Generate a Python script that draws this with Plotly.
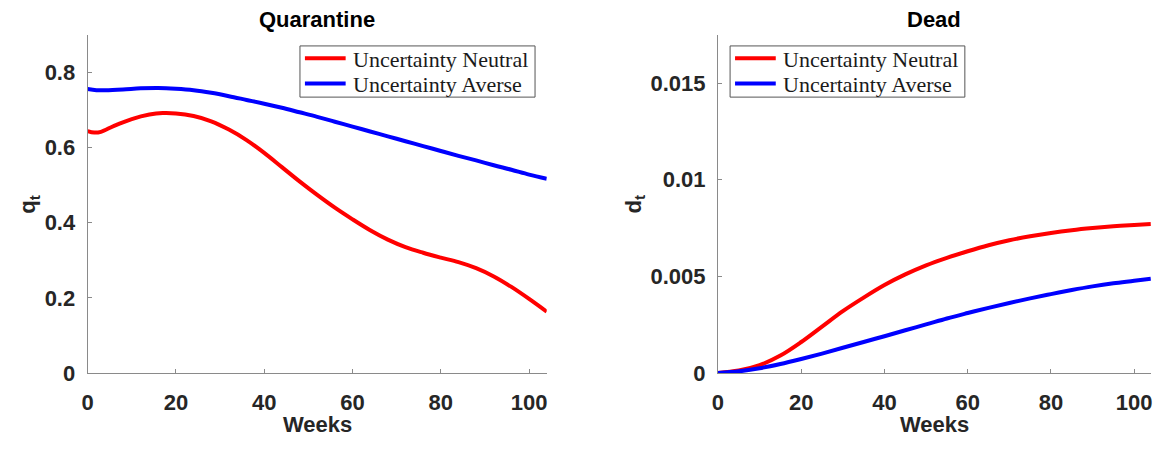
import plotly.graph_objects as go

W, H = 1162, 450

# Quarantine share q_t by week
weeks_q = [0, 1.5, 3, 6, 10, 14, 17, 20, 24, 28, 32, 36, 40, 44, 48, 52, 56, 60,
           64, 68, 72, 76, 80, 84, 88, 92, 96, 100, 104]
q_neutral = [0.644, 0.640, 0.642, 0.658, 0.676, 0.688, 0.692, 0.691, 0.684, 0.670,
             0.648, 0.620, 0.586, 0.548, 0.510, 0.474, 0.440, 0.409, 0.380, 0.355,
             0.335, 0.320, 0.307, 0.295, 0.279, 0.257, 0.229, 0.197, 0.163]
weeks_qa = [0, 2, 4, 8, 12, 16, 20, 24, 28, 32, 36, 40, 44, 48, 52, 56, 60, 64, 68,
            72, 76, 80, 84, 88, 92, 96, 100, 104]
q_averse = [0.756, 0.753, 0.753, 0.755, 0.758, 0.759, 0.757, 0.753, 0.746, 0.737,
            0.727, 0.717, 0.706, 0.694, 0.682, 0.669, 0.656, 0.643, 0.630, 0.617,
            0.604, 0.591, 0.578, 0.566, 0.553, 0.541, 0.528, 0.517]

# Cumulative dead share d_t by week
weeks_d = [0, 5, 10, 15, 20, 25, 30, 35, 40, 45, 50, 55, 60, 65, 70, 75, 80, 85,
           90, 95, 100, 104]
d_neutral = [0, 0.00012, 0.0004, 0.0009, 0.0016, 0.0024, 0.0032, 0.0039, 0.00455,
             0.0051, 0.00557, 0.00596, 0.0063, 0.00661, 0.00687, 0.00708, 0.00725,
             0.00739, 0.0075, 0.00759, 0.00766, 0.00771]
d_averse = [0, 0.00008, 0.00024, 0.00046, 0.00072, 0.001, 0.0013, 0.0016,
            0.0019, 0.00221, 0.00251, 0.00282, 0.0031, 0.00337, 0.00362, 0.00386,
            0.00408, 0.00429, 0.00448, 0.00464, 0.00477, 0.00488]

x_ticks = [0, 20, 40, 60, 80, 100]
q_ticks = [0, 0.2, 0.4, 0.6, 0.8]
q_tick_text = ["0", "0.2", "0.4", "0.6", "0.8"]
d_ticks = [0, 0.005, 0.01, 0.015]
d_tick_text = ["0", "0.005", "0.01", "0.015"]

names = ["Uncertainty Neutral", "Uncertainty Averse"]
RED, BLUE = "#ff0000", "#0000ff"
AX = "#8a8a8a"
TXT = "#262626"
SANS = "Liberation Sans, Arial, sans-serif"
SERIF = "Liberation Serif, Times New Roman, serif"

fig = go.Figure()
fig.add_trace(go.Scatter(x=weeks_q, y=q_neutral, name=names[0], mode="lines",
                         line=dict(color=RED, width=4, shape="spline"),
                         xaxis="x", yaxis="y"))
fig.add_trace(go.Scatter(x=weeks_qa, y=q_averse, name=names[1], mode="lines",
                         line=dict(color=BLUE, width=4, shape="spline"),
                         xaxis="x", yaxis="y"))
fig.add_trace(go.Scatter(x=weeks_d, y=d_neutral, name=names[0], mode="lines",
                         line=dict(color=RED, width=4, shape="spline"),
                         xaxis="x2", yaxis="y2"))
fig.add_trace(go.Scatter(x=weeks_d, y=d_averse, name=names[1], mode="lines",
                         line=dict(color=BLUE, width=4, shape="spline"),
                         xaxis="x2", yaxis="y2"))


def px_x(p):
    return p / W


def px_y(p):
    return 1 - p / H


# Panel frames in pixels: (left, right) and (top, bottom)
LEFT_PANEL = (82.2, 544.5)
RIGHT_PANEL = (716.9, 1152.8)
TOP, BOTTOM = 36, 384

tick_font = dict(family=SANS, size=22, color=TXT, weight="bold")
common_x = dict(range=[0, 104], tickvals=x_ticks, showline=True, linecolor=AX,
                linewidth=1, ticks="inside", ticklen=4, tickcolor=AX,
                showgrid=False, zeroline=False, tickfont=tick_font,
                ticklabelstandoff=10)
common_y = dict(showline=True, linecolor=AX, linewidth=1, ticks="inside",
                ticklen=4, tickcolor=AX, showgrid=False, zeroline=False,
                tickfont=tick_font, ticklabelstandoff=7)

fig.update_layout(
    width=W, height=H,
    margin=dict(l=0, r=0, t=0, b=0),
    paper_bgcolor="white", plot_bgcolor="white",
    showlegend=False,
    xaxis=dict(domain=[px_x(LEFT_PANEL[0]), px_x(LEFT_PANEL[1])], anchor="y", **common_x),
    yaxis=dict(domain=[px_y(BOTTOM), px_y(TOP)], anchor="x", range=[0, 0.9],
               tickvals=q_ticks, ticktext=q_tick_text, **common_y),
    xaxis2=dict(domain=[px_x(RIGHT_PANEL[0]), px_x(RIGHT_PANEL[1])], anchor="y2", **common_x),
    yaxis2=dict(domain=[px_y(BOTTOM), px_y(TOP)], anchor="x2", range=[0, 0.0175],
                tickvals=d_ticks, ticktext=d_tick_text, **common_y),
)

lc = sum(LEFT_PANEL) / 2
rc = sum(RIGHT_PANEL) / 2
title_font = dict(family=SANS, size=22, color="black", weight="bold")
label_font = dict(family=SANS, size=22, color=TXT, weight="bold")
annotations = [
    dict(text="Quarantine", x=px_x(lc), y=px_y(20), font=title_font),
    dict(text="Dead", x=px_x(rc), y=px_y(20), font=title_font),
    dict(text="Weeks", x=px_x(lc), y=px_y(437), font=label_font),
    dict(text="Weeks", x=px_x(rc), y=px_y(437), font=label_font),
    dict(text="q<sub>t</sub>", x=px_x(23), y=px_y(210), textangle=-90, font=label_font),
    dict(text="d<sub>t</sub>", x=px_x(633), y=px_y(210), textangle=-90, font=label_font),
]
for a in annotations:
    a.update(xref="paper", yref="paper", showarrow=False,
             xanchor="center", yanchor="middle")

# Boxed legends: one per panel, each listing both scenarios
shapes = []
legend_boxes = [(296.0, 532.7), (729.1, 965.5)]
row_y = [60, 86]
colors = [RED, BLUE]
for left, right in legend_boxes:
    shapes.append(dict(type="rect", xref="paper", yref="paper",
                       x0=px_x(left), x1=px_x(right), y0=px_y(100), y1=px_y(47.3),
                       line=dict(color="#555555", width=1), fillcolor="white",
                       layer="above"))
    for name, color, ry in zip(names, colors, row_y):
        shapes.append(dict(type="line", xref="paper", yref="paper",
                           x0=px_x(left + 5), x1=px_x(left + 46),
                           y0=px_y(ry), y1=px_y(ry),
                           line=dict(color=color, width=4), layer="above"))
        annotations.append(dict(text=name, xref="paper", yref="paper",
                                x=px_x(left + 51), y=px_y(ry + 1),
                                xanchor="left", yanchor="middle", showarrow=False,
                                font=dict(family=SERIF, size=22, color="#1a1a1a")))

fig.update_layout(annotations=annotations, shapes=shapes)

fig.write_html("out.html")
